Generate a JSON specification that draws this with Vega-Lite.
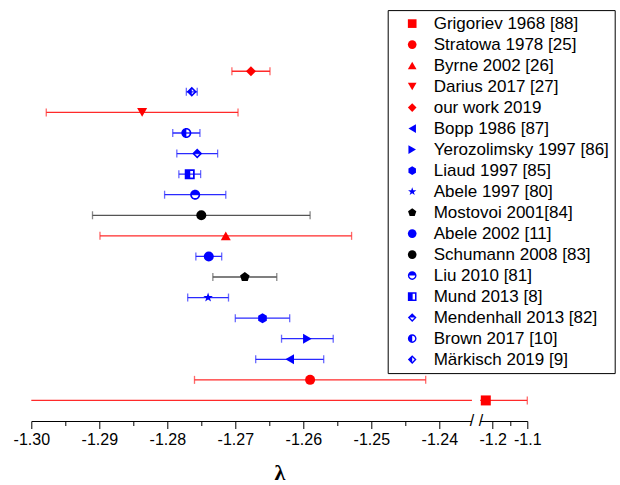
{
  "$schema": "https://vega.github.io/schema/vega-lite/v6.json",
  "width": 496,
  "height": 370.3,
  "autosize": {"type": "none"},
  "padding": {"left": 31.3, "top": 50.7, "right": 92.7, "bottom": 64},
  "config": {"view": {"stroke": null}, "font": "Liberation Sans"},
  "data": {
    "values": [
      {"study": "Grigoriev 1968 [88]", "method": "a", "lambda": -1.22, "lo": -1.34, "hi": -1.1},
      {"study": "Stratowa 1978 [25]", "method": "a", "lambda": -1.259, "lo": -1.276, "hi": -1.242},
      {"study": "Byrne 2002 [26]", "method": "a", "lambda": -1.2714, "lo": -1.2899, "hi": -1.2529},
      {"study": "Darius 2017 [27]", "method": "a", "lambda": -1.2837, "lo": -1.2978, "hi": -1.2696},
      {"study": "our work 2019", "method": "a", "lambda": -1.2677, "lo": -1.2705, "hi": -1.2649},
      {"study": "Bopp 1986 [87]", "method": "A", "lambda": -1.262, "lo": -1.267, "hi": -1.257},
      {"study": "Yerozolimsky 1997 [86]", "method": "A", "lambda": -1.2594, "lo": -1.2632, "hi": -1.2556},
      {"study": "Liaud 1997 [85]", "method": "A", "lambda": -1.266, "lo": -1.27, "hi": -1.262},
      {"study": "Abele 1997 [80]", "method": "A", "lambda": -1.274, "lo": -1.277, "hi": -1.271},
      {"study": "Mostovoi 2001[84]", "method": "AB", "lambda": -1.2686, "lo": -1.2733, "hi": -1.2639},
      {"study": "Abele 2002 [11]", "method": "A", "lambda": -1.2739, "lo": -1.2758, "hi": -1.272},
      {"study": "Schumann 2008 [83]", "method": "AB", "lambda": -1.275, "lo": -1.291, "hi": -1.259},
      {"study": "Liu 2010 [81]", "method": "A", "lambda": -1.2759, "lo": -1.2804, "hi": -1.2714},
      {"study": "Mund 2013 [8]", "method": "A", "lambda": -1.2767, "lo": -1.2783, "hi": -1.2751},
      {"study": "Mendenhall 2013 [82]", "method": "A", "lambda": -1.2756, "lo": -1.2786, "hi": -1.2726},
      {"study": "Brown 2017 [10]", "method": "A", "lambda": -1.2772, "lo": -1.2792, "hi": -1.2752},
      {"study": "Märkisch 2019 [9]", "method": "A", "lambda": -1.2764, "lo": -1.2772, "hi": -1.2756}
    ]
  },
  "encoding": {
    "y": {
      "field": "study",
      "type": "nominal",
      "axis": null,
      "scale": {
        "type": "point",
        "padding": 1.08,
        "domain": ["our work 2019", "Märkisch 2019 [9]", "Darius 2017 [27]", "Brown 2017 [10]", "Mendenhall 2013 [82]", "Mund 2013 [8]", "Liu 2010 [81]", "Schumann 2008 [83]", "Byrne 2002 [26]", "Abele 2002 [11]", "Mostovoi 2001[84]", "Abele 1997 [80]", "Liaud 1997 [85]", "Yerozolimsky 1997 [86]", "Bopp 1986 [87]", "Stratowa 1978 [25]", "Grigoriev 1968 [88]"]
      }
    }
  },
  "layer": [
    {
      "mark": {"type": "rule", "strokeWidth": 1.3, "clip": true},
      "encoding": {
        "x": {
          "field": "lo",
          "type": "quantitative",
          "title": "λ",
          "scale": {"domain": [-1.3, -1.235, -1.233, -1.1], "range": [0, 442, 450, 496], "nice": false, "zero": false},
          "axis": {
            "title": "λ",
            "values": [-1.3, -1.295, -1.29, -1.285, -1.28, -1.275, -1.27, -1.265, -1.26, -1.255, -1.25, -1.245, -1.24, -1.2, -1.15, -1.1],
            "tickCount": 100,
            "labelExpr": "(abs(datum.value*100 - round(datum.value*100)) > 0.1 || abs(datum.value + 1.15) < 0.000001) ? '' : (datum.value > -1.21 ? '-' + format(abs(datum.value), '.1f') : '-' + format(abs(datum.value), '.2f'))",
            "tickSize": {"condition": {"test": "abs(datum.value*100 - round(datum.value*100)) > 0.1 || abs(datum.value + 1.15) < 0.000001", "value": 4.5}, "value": 7.5},
            "grid": false,
            "labelFontSize": 16,
            "labelColor": "black",
            "labelPadding": 3,
            "labelOverlap": false,
            "labelFlush": false,
            "domainColor": "black",
            "tickColor": "black",
            "titleFont": "Liberation Serif",
            "titleFontSize": 22,
            "titleFontWeight": "bold",
            "titleColor": "black",
            "titlePadding": 15
          }
        },
        "x2": {"field": "hi"},
        "color": {
          "field": "method",
          "type": "nominal",
          "scale": {"domain": ["a", "A", "AB"], "range": ["#ff2a2a", "#2a2aff", "#555555"]},
          "legend": null
        }
      }
    },
    {
      "transform": [
        {"fold": ["lo", "hi"], "as": ["end", "xv"]},
        {"filter": "datum.xv >= -1.3"}
      ],
      "mark": {"type": "tick", "size": 8, "thickness": 1.3},
      "encoding": {
        "x": {"field": "xv", "type": "quantitative", "title": "λ"},
        "color": {"field": "method", "type": "nominal", "legend": null}
      }
    },
    {
      "data": {"values": [{"b0": -1.2352, "b1": -1.2333, "bm": -1.2342}]},
      "mark": {"type": "rect", "color": "white"},
      "encoding": {
        "x": {"field": "b0", "type": "quantitative", "title": "λ"},
        "x2": {"field": "b1"},
        "y": {"value": 0},
        "y2": {"value": {"expr": "height + 3"}}
      }
    },
    {
      "data": {"values": [{"b0": -1.2352, "b1": -1.2333, "bm": -1.2342}]},
      "mark": {"type": "text", "text": "/ /", "fontSize": 16, "align": "center", "baseline": "middle", "color": "black"},
      "encoding": {
        "x": {"field": "bm", "type": "quantitative", "title": "λ"},
        "y": {"value": "height"}
      }
    },
    {
      "mark": {"type": "point", "filled": true, "size": 100, "strokeWidth": 0, "opacity": 1},
      "encoding": {
        "x": {"field": "lambda", "type": "quantitative", "title": "λ"},
        "fill": {
          "field": "study",
          "type": "nominal",
          "scale": {
            "domain": ["Grigoriev 1968 [88]", "Stratowa 1978 [25]", "Byrne 2002 [26]", "Darius 2017 [27]", "our work 2019", "Bopp 1986 [87]", "Yerozolimsky 1997 [86]", "Liaud 1997 [85]", "Abele 1997 [80]", "Mostovoi 2001[84]", "Abele 2002 [11]", "Schumann 2008 [83]", "Liu 2010 [81]", "Mund 2013 [8]", "Mendenhall 2013 [82]", "Brown 2017 [10]", "Märkisch 2019 [9]"],
            "range": ["#ff0000", "#ff0000", "#ff0000", "#ff0000", "#ff0000", "#0000ff", "#0000ff", "#0000ff", "#0000ff", "#000000", "#0000ff", "#000000", "#0000ff", "#0000ff", "#0000ff", "#0000ff", "#0000ff"]
          },
          "legend": {
            "title": null,
            "orient": "none",
            "legendX": 356.4,
            "legendY": -40.6,
            "direction": "vertical",
            "strokeColor": "black",
            "fillColor": "white",
            "padding": 5,
            "symbolOffset": 11,
            "labelOffset": 13,
            "rowPadding": 3.0,
            "symbolSize": 75,
            "symbolStrokeWidth": 0,
            "labelFontSize": 17,
            "labelFont": "Liberation Sans",
            "labelColor": "black",
            "labelLimit": 400
          }
        },
        "shape": {
          "field": "study",
          "type": "nominal",
          "scale": {
            "domain": ["Grigoriev 1968 [88]", "Stratowa 1978 [25]", "Byrne 2002 [26]", "Darius 2017 [27]", "our work 2019", "Bopp 1986 [87]", "Yerozolimsky 1997 [86]", "Liaud 1997 [85]", "Abele 1997 [80]", "Mostovoi 2001[84]", "Abele 2002 [11]", "Schumann 2008 [83]", "Liu 2010 [81]", "Mund 2013 [8]", "Mendenhall 2013 [82]", "Brown 2017 [10]", "Märkisch 2019 [9]"],
            "range": [
              "square",
              "circle",
              "triangle-up",
              "triangle-down",
              "diamond",
              "triangle-left",
              "triangle-right",
              "M0,-1L0.866,-0.5L0.866,0.5L0,1L-0.866,0.5L-0.866,-0.5Z",
              "M0,-1L0.235,-0.324L0.951,-0.309L0.38,0.124L0.588,0.809L0,0.4L-0.588,0.809L-0.38,0.124L-0.951,-0.309L-0.235,-0.324Z",
              "M0,-1L0.951,-0.309L0.588,0.809L-0.588,0.809L-0.951,-0.309Z",
              "circle",
              "circle",
              "M0,-1C0.552,-1 1,-0.552 1,0C1,0.552 0.552,1 0,1C-0.552,1 -1,0.552 -1,0C-1,-0.552 -0.552,-1 0,-1ZM0.68,0L-0.68,0C-0.68,0.376 -0.376,0.68 0,0.68C0.376,0.68 0.68,0.376 0.68,0Z",
              "M-1,-1L1,-1L1,1L-1,1ZM0.1,-0.65L0.1,0.65L0.65,0.65L0.65,-0.65Z",
              "M0,-1L1,0L0,1L-1,0ZM0.55,0L-0.55,0L0,0.55Z",
              "M0,-1C0.552,-1 1,-0.552 1,0C1,0.552 0.552,1 0,1C-0.552,1 -1,0.552 -1,0C-1,-0.552 -0.552,-1 0,-1ZM0,-0.68L0,0.68C0.376,0.68 0.68,0.376 0.68,0C0.68,-0.376 0.376,-0.68 0,-0.68Z",
              "M0,-1L1,0L0,1L-1,0ZM0,-0.55L0,0.55L0.55,0Z"
            ]
          },
          "legend": {
            "title": null,
            "orient": "none",
            "legendX": 356.4,
            "legendY": -40.6,
            "direction": "vertical",
            "strokeColor": "black",
            "fillColor": "white",
            "padding": 5,
            "symbolOffset": 11,
            "labelOffset": 13,
            "rowPadding": 3.0,
            "symbolSize": 75,
            "symbolStrokeWidth": 0,
            "labelFontSize": 17,
            "labelFont": "Liberation Sans",
            "labelColor": "black",
            "labelLimit": 400
          }
        }
      }
    }
  ]
}
